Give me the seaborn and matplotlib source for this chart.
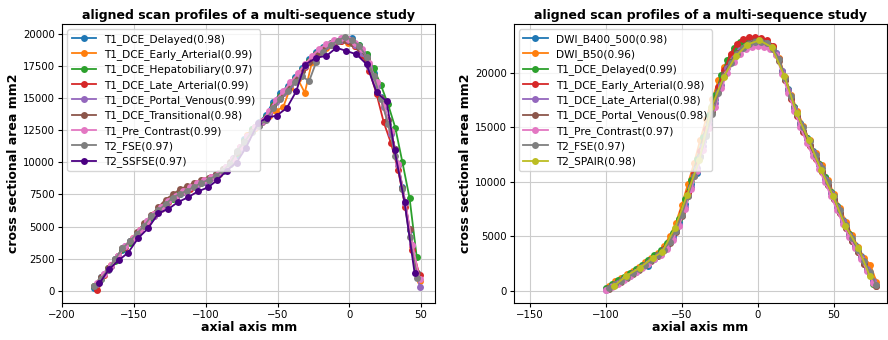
import pandas as pd
import matplotlib.pyplot as plt
import seaborn as sns

# ---- left panel: axial position (mm) vs cross sectional area (mm2) ----
left_names = ['T1_DCE_Delayed(0.98)', 'T1_DCE_Early_Arterial(0.99)', 'T1_DCE_Hepatobiliary(0.97)',
              'T1_DCE_Late_Arterial(0.99)', 'T1_DCE_Portal_Venous(0.99)', 'T1_DCE_Transitional(0.98)',
              'T1_Pre_Contrast(0.99)', 'T2_FSE(0.97)', 'T2_SSFSE(0.97)']
left_colors = ['#1f77b4', '#ff7f0e', '#2ca02c', '#d62728', '#9467bd', '#8c564b',
               '#e377c2', '#7f7f7f', '#4b0082']

x_la = [-178, -173, -168, -163, -158, -153, -148, -143, -138, -133, -128, -123, -118, -113, -108, -103,
        -98, -93, -88, -83, -78, -73, -68, -63, -58, -53, -48, -43, -38, -33, -28, -23, -18, -13, -8, -3,
        2, 7, 12, 17, 22, 27, 32, 37, 42, 47]
x_lb = [-176, -171, -166, -161, -156, -151, -146, -141, -136, -131, -126, -121, -116, -111, -106, -101,
        -96, -91, -86, -81, -76, -71, -66, -61, -56, -51, -46, -41, -36, -31, -26, -21, -16, -11, -6, -1,
        4, 9, 14, 19, 24, 29, 34, 39, 44, 49]
x_ssfse = [-174, -167.5, -160.5, -154, -147, -140, -133, -126, -119.5, -112.5, -105.5, -98.5, -92, -85.5,
           -78.5, -72, -63.5, -57.5, -50.5, -43.5, -37, -31, -23, -16, -9, -2, 5, 12, 19, 26, 31.5, 38.5, 45.5]

l_delayed = [250, 1050, 1650, 2450, 3150, 3850, 4400, 5150, 5650, 6300, 6750, 7250, 7550, 7950, 8150, 8500,
             8650, 9050, 9350, 9950, 10600, 11800, 12600, 13100, 13700, 14700, 15350, 15950, 16600, 17300,
             18000, 18550, 18950, 19300, 19450, 19550, 19650, 19100, 18300, 16900, 15100, 13300, 11000, 8100,
             4700, 1400]
l_early = [450, 1250, 2050, 2650, 3400, 4100, 4650, 5300, 5950, 6400, 6900, 7400, 7650, 8050, 8250, 8600,
           8750, 9200, 9550, 10150, 11000, 12100, 12650, 13100, 13600, 14000, 14300, 15800, 16500, 15400,
           17800, 18500, 18900, 19200, 19400, 19300, 19000, 18500, 17500, 16000, 14300, 12300, 9800, 6800,
           3500, 800]
l_hepato = [350, 950, 1750, 2350, 3250, 3750, 4500, 5050, 5750, 6200, 6850, 7150, 7650, 7850, 8250, 8400,
            8750, 8950, 9450, 9850, 10750, 11650, 12550, 12900, 13550, 14450, 15150, 15750, 16450, 17150,
            17850, 18450, 18850, 19250, 19450, 19550, 19300, 19100, 18400, 17300, 16000, 14500, 12700, 10000,
            7200, 2600]
l_late = [50, 1200, 1950, 2750, 3400, 4000, 4750, 5300, 5850, 6500, 6900, 7300, 7750, 7950, 8350, 8500,
          8850, 9100, 9650, 10150, 11150, 11950, 12750, 13200, 13850, 14750, 15400, 16050, 16700, 17400,
          18100, 18600, 19000, 19300, 19450, 19400, 19000, 18300, 17100, 15300, 13100, 11500, 9400, 6500,
          3200, 1200]
l_portal = [500, 1350, 1950, 2750, 3500, 4000, 4650, 5400, 5850, 6400, 7000, 7300, 7650, 8050, 8250, 8500,
            8800, 9200, 9650, 10300, 11000, 11900, 12750, 13100, 13800, 14700, 15400, 16000, 16750, 17450,
            18100, 18700, 19000, 19400, 19500, 19500, 19100, 18500, 17400, 15900, 14300, 12200, 9800, 6800,
            3600, 300]
l_trans = [400, 1100, 1800, 2500, 3300, 3900, 4550, 5250, 5900, 6500, 7100, 7500, 7900, 8150, 8400, 8600,
           8800, 9100, 9500, 10000, 10800, 11600, 12400, 12900, 13450, 14400, 15100, 15700, 16400, 17100,
           17800, 18400, 18800, 19150, 19400, 19500, 19300, 18900, 18100, 16700, 15000, 13300, 11000, 8000,
           4800, 1400]
l_pre = [600, 1350, 2050, 2700, 3500, 4100, 4750, 5400, 5950, 6500, 7000, 7400, 7750, 8050, 8350, 8600,
         8850, 9200, 9650, 10250, 11150, 12050, 12750, 13200, 13950, 14850, 15500, 16200, 16900, 17600,
         18250, 18800, 19200, 19500, 19650, 19600, 19300, 18800, 17700, 16200, 14500, 12400, 9900, 6900,
         3600, 900]
l_fse = [350, 950, 1650, 2500, 3300, 3850, 4450, 5050, 5800, 6250, 6750, 7250, 7550, 7800, 8100, 8400,
         8650, 8950, 9350, 9900, 10900, 11600, 12350, 12800, 13300, 14200, 14900, 15500, 16200, 16700,
         16300, 17800, 18600, 19100, 19450, 19750, 19500, 19050, 18200, 16700, 14900, 13000, 10500, 7900,
         4200, 1000]
l_ssfse = [590, 1670, 2390, 2980, 4110, 4880, 6040, 6370, 6890, 7270, 7730, 8040, 8600, 9340, 9980, 11130,
           13060, 13450, 13630, 14220, 15510, 17570, 18130, 18260, 18900, 18650, 18390, 17620, 15430, 14740,
           10950, 6900, 1370]

left_x = [x_la, x_lb, x_la, x_lb, x_lb, x_la, x_lb, x_la, x_ssfse]
left_y = [l_delayed, l_early, l_hepato, l_late, l_portal, l_trans, l_pre, l_fse, l_ssfse]

# ---- right panel ----
right_names = ['DWI_B400_500(0.98)', 'DWI_B50(0.96)', 'T1_DCE_Delayed(0.99)', 'T1_DCE_Early_Arterial(0.98)',
               'T1_DCE_Late_Arterial(0.98)', 'T1_DCE_Portal_Venous(0.98)', 'T1_Pre_Contrast(0.97)',
               'T2_FSE(0.97)', 'T2_SPAIR(0.98)']
right_colors = ['#1f77b4', '#ff7f0e', '#2ca02c', '#d62728', '#9467bd', '#8c564b',
                '#e377c2', '#7f7f7f', '#bcbd22']

x_ra = [-100, -96, -92, -88, -84, -80, -76, -72, -68, -64, -60, -56, -52, -48, -44, -40, -36, -32, -28,
        -24, -20, -16, -12, -8, -4, 0, 4, 8, 12, 16, 20, 24, 28, 32, 36, 40, 44, 48, 52, 56, 60, 64, 68,
        72, 76]
x_rb = [-98, -94, -90, -86, -82, -78, -74, -70, -66, -62, -58, -54, -50, -46, -42, -38, -34, -30, -26,
        -22, -18, -14, -10, -6, -2, 2, 6, 10, 14, 18, 22, 26, 30, 34, 38, 42, 46, 50, 54, 58, 62, 66, 70,
        74, 78]
x_spair = [-94.5, -86.5, -77.5, -69, -63, -54.5, -46.5, -38.5, -30.5, -22.5, -14.5, -7, 1, 9, 17.5, 25.5,
           33.5, 41.5, 49.5, 57.5, 66, 73.5]

r_b400 = [200, 550, 850, 1100, 1550, 1800, 2200, 2300, 3050, 3500, 4150, 5000, 6300, 8000, 9800, 10800,
          13700, 15700, 17600, 19400, 20700, 21600, 22200, 22600, 22800, 22900, 22800, 22500, 21800, 20200,
          18500, 16900, 15400, 14000, 12800, 11600, 10400, 9100, 7800, 6500, 5200, 4200, 3200, 2000, 1000]
r_b50 = [400, 900, 1200, 1500, 1800, 2200, 2600, 3000, 3500, 4100, 5000, 6200, 7900, 9800, 11700, 13800,
         15800, 17600, 19300, 20500, 21600, 22300, 22800, 23000, 23100, 23100, 22900, 22400, 21400, 19600,
         18000, 16500, 15100, 13800, 12600, 11500, 10200, 8900, 7600, 6300, 5100, 4000, 3000, 2400, 800]
r_delayed = [250, 600, 950, 1300, 1650, 2000, 2400, 2800, 3250, 3700, 4350, 5300, 6600, 8400, 10200, 12100,
             14100, 16100, 18000, 19800, 21200, 22300, 22800, 22800, 22900, 22900, 22800, 22500, 21700, 20100,
             18400, 16900, 15300, 14000, 12700, 11600, 10400, 9100, 7800, 6400, 5200, 4100, 3100, 1900, 600]
r_early = [250, 600, 900, 1250, 1600, 2000, 2400, 2800, 3250, 3800, 4550, 5600, 7200, 9000, 10800, 12800,
           14800, 16800, 18700, 20300, 21700, 22600, 23100, 23300, 23300, 23200, 23000, 22500, 21300, 19300,
           17600, 16000, 14600, 13300, 12100, 10900, 9700, 8400, 7100, 5800, 4600, 3600, 2500, 1500, 400]
r_late = [100, 400, 700, 1050, 1400, 1750, 2150, 2550, 2950, 3400, 4000, 4800, 6000, 7700, 9500, 11300,
          13300, 15300, 17200, 18900, 20400, 21400, 22100, 22500, 22700, 22800, 22700, 22400, 21800, 20200,
          18400, 16800, 15300, 13900, 12700, 11500, 10300, 9000, 7700, 6400, 5100, 4100, 3100, 2000, 900]
r_portal = [200, 550, 850, 1200, 1550, 1950, 2350, 2750, 3200, 3700, 4400, 5400, 6900, 8700, 10500, 12400,
            14400, 16400, 18300, 19900, 21000, 21800, 22300, 22700, 22900, 22900, 22700, 22200, 21100, 19300,
            17700, 16100, 14700, 13400, 12200, 11000, 9700, 8400, 7100, 5800, 4600, 3600, 2500, 1500, 400]
r_pre = [50, 350, 650, 1000, 1350, 1700, 2100, 2500, 2900, 3300, 3850, 4700, 5900, 7500, 9300, 11000,
         12900, 14900, 16900, 18600, 20000, 21000, 21700, 22200, 22400, 22500, 22400, 22200, 21600, 19900,
         18100, 16500, 15000, 13600, 12400, 11200, 10000, 8700, 7400, 6100, 4900, 3900, 2900, 1800, 700]
r_fse = [250, 600, 900, 1250, 1600, 2000, 2400, 2800, 3250, 3750, 4500, 5500, 7000, 8700, 10500, 12300,
         14200, 16200, 18100, 19700, 20900, 21700, 22300, 22600, 22800, 22800, 22700, 22200, 21300, 19500,
         17900, 16300, 15000, 13700, 12500, 11300, 10000, 8700, 7400, 6000, 4800, 3700, 2700, 1700, 500]
r_spair = [460, 1370, 2130, 3040, 3560, 5780, 8830, 12020, 16830, 19630, 21520, 22590, 22980, 22370, 19690,
           16290, 13790, 11110, 8680, 5940, 3960, 1370]

right_x = [x_ra, x_rb, x_ra, x_rb, x_ra, x_rb, x_ra, x_rb, x_spair]
right_y = [r_b400, r_b50, r_delayed, r_early, r_late, r_portal, r_pre, r_fse, r_spair]


def to_long(names, xs, ys):
    frames = []
    for name, x, y in zip(names, xs, ys):
        frames.append(pd.DataFrame({'sequence': name, 'axial': x, 'area': y}))
    return pd.concat(frames, ignore_index=True)


# plain matplotlib look (no seaborn theme), text in DejaVu Sans
plt.rcParams['font.family'] = ['DejaVu Sans']

fig, axes = plt.subplots(1, 2, figsize=(8.88, 3.4), dpi=100)
fig.subplots_adjust(left=0.07, right=0.999, top=0.929, bottom=0.109, wspace=0.21)

panels = [(left_names, left_x, left_y, left_colors, (-200, 60)),
          (right_names, right_x, right_y, right_colors, (-160.5, 85))]

for ax, (names, xs, ys, colors, xlim) in zip(axes, panels):
    df = to_long(names, xs, ys)
    sns.lineplot(data=df, x='axial', y='area', hue='sequence', palette=colors,
                 estimator=None, sort=False, marker='o', markersize=5, markeredgewidth=0,
                 linewidth=1.3, ax=ax)
    ax.set_xlim(*xlim)
    ax.grid(True, color='#cccccc', linewidth=0.8)
    ax.set_title('aligned scan profiles of a multi-sequence study', fontsize=9, fontweight='bold', pad=4)
    ax.set_xlabel('axial axis mm', fontsize=9, fontweight='bold', labelpad=1)
    ax.set_ylabel('cross sectional area mm2', fontsize=9, fontweight='bold', labelpad=2)
    ax.tick_params(labelsize=7.3, length=3, pad=2)
    handles, labels = ax.get_legend_handles_labels()
    ax.legend(handles, labels, loc='upper left', fontsize=7.6, handlelength=2.3,
              labelspacing=0.42, borderpad=0.4, handletextpad=0.8, framealpha=0.8)

axes[0].set_xticks([-200, -150, -100, -50, 0, 50])
axes[1].set_xticks([-150, -100, -50, 0, 50])

fig.savefig('out.png', dpi=100)
